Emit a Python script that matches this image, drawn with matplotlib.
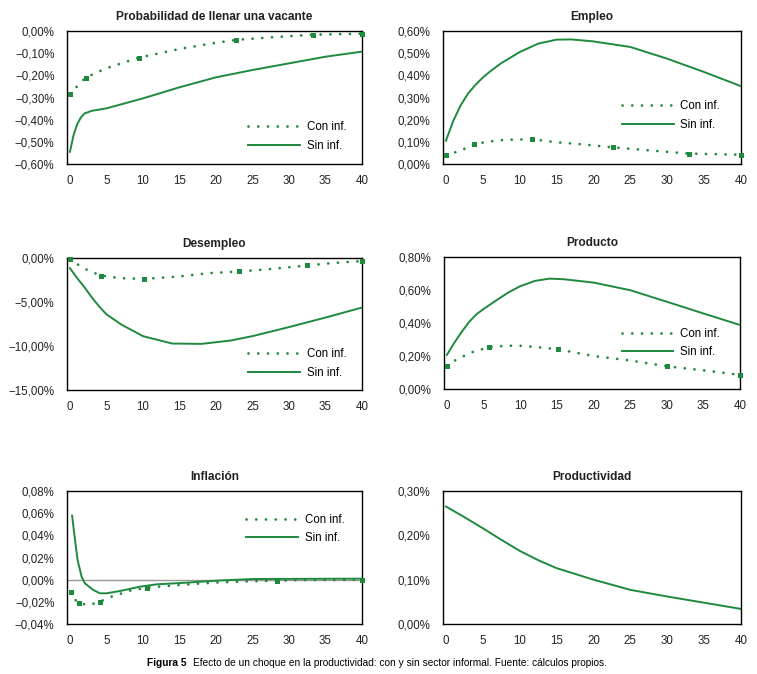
import matplotlib
matplotlib.use("Agg")
import matplotlib.pyplot as plt
from matplotlib.ticker import FuncFormatter, FixedLocator

plt.rcParams['font.family'] = ['Liberation Sans', 'DejaVu Sans']

GREEN = '#1f8a3e'

# ---------------- data ----------------
# Probabilidad de llenar una vacante
prob_con_x = [0, 2.15, 5, 9.45, 15, 20, 22.8, 27, 33.3, 40]
prob_con_y = [-0.284, -0.21, -0.168, -0.12, -0.081, -0.053, -0.04, -0.03, -0.0165, -0.012]
prob_con_marks = [0, 1, 3, 6, 8, 9]
prob_sin_x = [0, 0.5, 1, 1.5, 2, 3, 5, 10, 15, 20, 25, 30, 35, 40]
prob_sin_y = [-0.545, -0.47, -0.42, -0.39, -0.372, -0.36, -0.349, -0.304, -0.254, -0.209, -0.176, -0.146, -0.116, -0.093]

# Empleo
emp_con_x = [0, 2, 3.8, 6, 8, 11.6, 15, 18, 22.7, 27, 32.9, 37, 40]
emp_con_y = [0.04, 0.06, 0.09, 0.102, 0.109, 0.112, 0.098, 0.09, 0.075, 0.063, 0.047, 0.044, 0.042]
emp_con_marks = [0, 2, 5, 8, 10, 12]
emp_sin_x = [0, 1, 2, 3, 4, 5, 6, 7.5, 10, 12.5, 15, 17, 20, 25, 30, 35, 40]
emp_sin_y = [0.105, 0.195, 0.265, 0.318, 0.357, 0.39, 0.418, 0.455, 0.505, 0.543, 0.561, 0.562, 0.553, 0.528, 0.475, 0.415, 0.351]

# Desempleo
des_con_x = [0, 1, 2, 3, 4.3, 7, 10.2, 15, 19, 23.2, 28, 32.5, 36, 40]
des_con_y = [-0.15, -0.7, -1.2, -1.6, -2.0, -2.3, -2.37, -2.1, -1.72, -1.53, -1.22, -0.84, -0.57, -0.34]
des_con_marks = [0, 4, 6, 9, 11, 13]
des_sin_x = [0, 1, 2, 3, 4, 5, 7, 10, 14, 18, 22, 25, 30, 35, 40]
des_sin_y = [-1.15, -2.3, -3.33, -4.48, -5.5, -6.4, -7.54, -8.88, -9.72, -9.76, -9.38, -8.88, -7.85, -6.77, -5.63]

# Producto
pro_con_x = [0, 1, 3.3, 5.7, 8, 10, 12, 15.1, 20, 25, 30.1, 35, 40]
pro_con_y = [0.141, 0.171, 0.221, 0.253, 0.262, 0.262, 0.255, 0.241, 0.2, 0.173, 0.137, 0.113, 0.086]
pro_con_marks = [0, 3, 7, 10, 12]
pro_sin_x = [0, 1, 2, 3, 4, 5, 6, 7, 8.5, 10, 12, 14, 16, 20, 25, 30, 35, 40]
pro_sin_y = [0.207, 0.28, 0.345, 0.405, 0.452, 0.485, 0.515, 0.545, 0.588, 0.623, 0.655, 0.669, 0.665, 0.645, 0.599, 0.529, 0.458, 0.388]

# Inflación
inf_con_x = [0.2, 0.55, 1.2, 2.65, 4.1, 5.3, 6.6, 8, 10.6, 13.3, 16.9, 20.6, 24.5, 28.3, 31.5, 40]
inf_con_y = [-0.0108, -0.0168, -0.0215, -0.0228, -0.0199, -0.0162, -0.0135, -0.0102, -0.0072, -0.0057,
             -0.0039, -0.0024, -0.0015, -0.0009, -0.0003, -0.0001]
inf_con_marks = [0, 2, 4, 8, 13, 15]
inf_sin_x = [0.3, 0.7, 1.05, 1.6, 2.05, 3.2, 4.1, 5, 6.9, 9.6, 11.9, 16, 20, 25, 40]
inf_sin_y = [0.0577, 0.0358, 0.0177, 0.0027, -0.0033, -0.0093, -0.0123, -0.0123, -0.0102, -0.0063,
             -0.0042, -0.0027, -0.0009, 0.0006, 0.0009]

# Productividad
prd_x = [0, 2.5, 5, 7.5, 10, 12.5, 15, 20, 25, 30, 35, 40]
prd_y = [0.265, 0.241, 0.216, 0.19, 0.165, 0.144, 0.126, 0.1, 0.077, 0.062, 0.048, 0.034]

titles = ["Probabilidad de llenar una vacante", "Empleo", "Desempleo", "Producto", "Inflación", "Productividad"]
xticks = [0, 5, 10, 15, 20, 25, 30, 35, 40]
yticks_list = [
    [-0.6, -0.5, -0.4, -0.3, -0.2, -0.1, 0.0],
    [0.0, 0.1, 0.2, 0.3, 0.4, 0.5, 0.6],
    [-15, -10, -5, 0],
    [0.0, 0.2, 0.4, 0.6, 0.8],
    [-0.04, -0.02, 0.0, 0.02, 0.04, 0.06, 0.08],
    [0.0, 0.1, 0.2, 0.3],
]
legend_labels = ["Con inf.", "Sin inf."]

# ---------------- layout ----------------
fig = plt.figure(figsize=(7.57, 6.74), dpi=100)
W, H = 757, 674
boxes = [
    (67, 31, 362, 164), (443, 31, 741, 164),
    (67, 258, 362, 390), (444, 257, 740, 389),
    (67, 491, 362, 624), (443, 491, 741, 624),
]
axes = []
for (l, t, r, b) in boxes:
    ax = fig.add_axes([l / W, 1 - b / H, (r - l) / W, (b - t) / H])
    axes.append(ax)


def pct_fmt(v, pos):
    s = f"{v:.2f}".replace('.', ',').replace('-', '\u2212')
    if s == '\u22120,00':
        s = '0,00'
    return s + '%'


series = [
    (prob_con_x, prob_con_y, prob_con_marks, prob_sin_x, prob_sin_y),
    (emp_con_x, emp_con_y, emp_con_marks, emp_sin_x, emp_sin_y),
    (des_con_x, des_con_y, des_con_marks, des_sin_x, des_sin_y),
    (pro_con_x, pro_con_y, pro_con_marks, pro_sin_x, pro_sin_y),
    (inf_con_x, inf_con_y, inf_con_marks, inf_sin_x, inf_sin_y),
]
legend_anchor = [(0.615, 0.207), (0.60, 0.365), (0.615, 0.20), (0.60, 0.35), (0.608, 0.714)]

for i, ax in enumerate(axes):
    yt = yticks_list[i]
    ax.set_xlim(-0.4, 40)
    ax.set_ylim(yt[0], yt[-1])
    ax.xaxis.set_major_locator(FixedLocator(xticks))
    ax.yaxis.set_major_locator(FixedLocator(yt))
    ax.yaxis.set_major_formatter(FuncFormatter(pct_fmt))
    ax.tick_params(length=0, labelsize=8.3, colors='#222222')
    ax.tick_params(axis='y', pad=9)
    ax.tick_params(axis='x', pad=8)
    for sp in ax.spines.values():
        sp.set_linewidth(1.0)
        sp.set_color('black')
    ax.set_title(titles[i], fontsize=8.6, fontweight='bold', pad=8, color='#222222')

    if i == 4:
        ax.axhline(0, color='#999999', lw=1.0, zorder=1)

    if i < 5:
        cx, cy, cm, sx, sy = series[i]
        con_line, = ax.plot(cx, cy, color=GREEN, lw=2.0, linestyle=(0, (0.01, 3.5)),
                            dash_capstyle='round', zorder=3)
        ax.plot([cx[k] for k in cm], [cy[k] for k in cm], linestyle='none', marker='s',
                markersize=3.6, color=GREEN, markeredgewidth=0, zorder=4, clip_on=False)
        sin_line, = ax.plot(sx, sy, color=GREEN, lw=1.4, zorder=3)
        ax.legend([con_line, sin_line], legend_labels, loc='center left',
                  bbox_to_anchor=legend_anchor[i], frameon=False, fontsize=8.3,
                  handlelength=4.5, handletextpad=0.55, borderpad=0, borderaxespad=0,
                  labelspacing=0.55)
    else:
        ax.plot(prd_x, prd_y, color=GREEN, lw=1.4)

# caption
fig.text(147 / W, 1 - 663 / H, "Figura 5", fontsize=7.3, fontweight='bold',
         va='center', ha='left')
fig.text(193 / W, 1 - 663 / H,
         "Efecto de un choque en la productividad: con y sin sector informal. Fuente: cálculos propios.",
         fontsize=7.3, va='center', ha='left')

fig.savefig("out.png", dpi=100)
